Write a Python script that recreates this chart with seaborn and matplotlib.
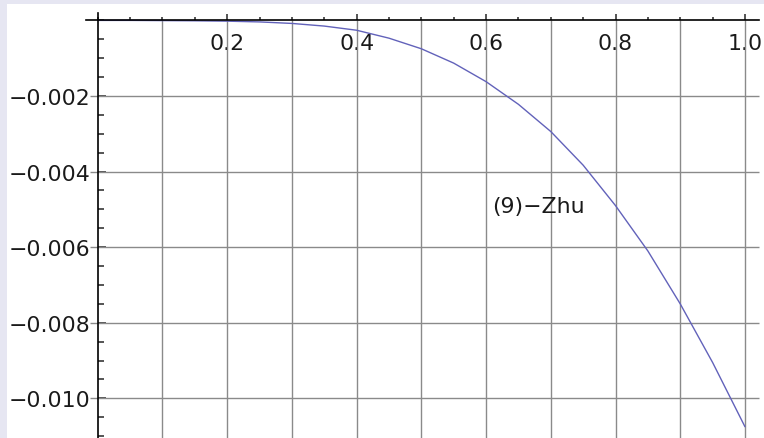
import numpy as np
import matplotlib
matplotlib.use("Agg")
import matplotlib.pyplot as plt
import matplotlib.ticker as mticker
import seaborn as sns

# curve (y in units of 1e-3)
x_vals = [0.0, 0.05, 0.1, 0.15, 0.2, 0.25, 0.3, 0.35, 0.4, 0.45, 0.5,
          0.55, 0.6, 0.65, 0.7, 0.75, 0.8, 0.85, 0.9, 0.95, 1.0]
y_milli = [0.0, 0.0, -0.005, -0.01, -0.02, -0.04, -0.08, -0.15, -0.26, -0.47, -0.75,
           -1.13, -1.62, -2.22, -2.94, -3.83, -4.90, -6.10, -7.50, -9.05, -10.75]
y_vals = [v / 1000 for v in y_milli]

x_ticks = [0.2, 0.4, 0.6, 0.8, 1.0]
x_minor = [i * 0.05 for i in range(21)]
y_ticks = [-0.010, -0.008, -0.006, -0.004, -0.002]
grid_x = [0.1, 0.2, 0.3, 0.4, 0.5, 0.6, 0.7, 0.8, 0.9, 1.0]
grid_y = [-0.002, -0.004, -0.006, -0.008, -0.010]
label_text = "(9)\u2212Zhu"

sns.set_style("white")
plt.rcParams["font.family"] = ["DejaVu Sans"]

fig = plt.figure(figsize=(7.64, 4.39), dpi=100)
fig.patch.set_facecolor("#e6e6f2")
ax = fig.add_axes([7 / 764, 0, 757 / 764, 434 / 439])
ax.set_facecolor("white")

xmin, xmax = -0.1401, 1.0294
ymin, ymax = -0.011048, 0.000434
ax.set_xlim(xmin, xmax)
ax.set_ylim(ymin, ymax)

grid_kw = dict(color="#8a8a8a", linewidth=1.0, zorder=1)
ax.vlines(grid_x, ymin, 0, **grid_kw)
ax.hlines(grid_y, -0.012, 1.021, **grid_kw)

sns.lineplot(x=x_vals, y=y_vals, ax=ax, color="#6262ba", linewidth=1.0, zorder=3)

ax.text(0.6087, -0.00490, label_text, ha="left", va="center",
        fontsize=15.8, color="#1a1a1a", zorder=4)

# mathematica style axes crossing at the origin
for side in ["top", "right"]:
    ax.spines[side].set_visible(False)
ax.spines["left"].set_position(("data", 0))
ax.spines["bottom"].set_position(("data", 0))
ax.spines["left"].set_bounds(ymin, 0.000196)
ax.spines["bottom"].set_bounds(-0.018, 1.021)
for side in ["left", "bottom"]:
    ax.spines[side].set_linewidth(1.2)
    ax.spines[side].set_color("black")
    ax.spines[side].set_zorder(5)

ax.xaxis.set_major_locator(mticker.FixedLocator(x_ticks))
ax.xaxis.set_minor_locator(mticker.FixedLocator(x_minor))
ax.yaxis.set_major_locator(mticker.FixedLocator(y_ticks))
ax.yaxis.set_minor_locator(mticker.MultipleLocator(0.0005))
ax.xaxis.set_major_formatter(mticker.FuncFormatter(lambda v, p: f"{v:.1f}"))
ax.yaxis.set_major_formatter(
    mticker.FuncFormatter(lambda v, p: f"{v:.3f}".replace("-", "\u2212")))

ax.tick_params(axis="x", which="major", direction="in", length=4.3, width=1.1,
               pad=9, labelsize=15.8, labelcolor="#1a1a1a")
ax.tick_params(axis="x", which="minor", direction="in", length=2.2, width=1.1)
ax.tick_params(axis="y", which="major", direction="in", length=6.0, width=1.1,
               pad=5.5, labelsize=15.8, labelcolor="#1a1a1a")
ax.tick_params(axis="y", which="minor", direction="in", length=4.5, width=1.1)
ax.xaxis.set_ticks_position("bottom")
ax.yaxis.set_ticks_position("left")

fig.savefig("out.png", dpi=100, facecolor=fig.get_facecolor())
